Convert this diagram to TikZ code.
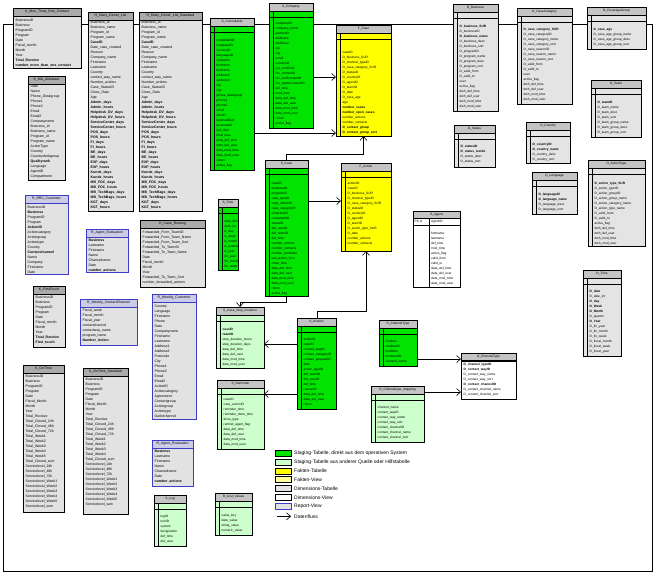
\documentclass[tikz,border=0pt]{standalone}
\usepackage{fontspec}
\setmainfont{Liberation Sans}
\usetikzlibrary{arrows.meta}
\definecolor{sgreen}{RGB}{0,228,0}
\definecolor{lgreen}{RGB}{204,255,204}
\definecolor{fyellow}{RGB}{255,255,0}
\definecolor{fview}{RGB}{255,255,153}
\definecolor{dgray}{RGB}{228,228,228}
\definecolor{hgray}{RGB}{196,196,196}
\definecolor{kbody}{RGB}{226,226,226}
\definecolor{khead}{RGB}{170,170,170}
\definecolor{rblue}{RGB}{60,60,200}
\definecolor{rhead}{RGB}{204,204,230}
\definecolor{shadowc}{RGB}{96,96,96}
\tikzset{
  tab/.style={inner sep=0pt,outer sep=0pt,anchor=north west,line width=0.6pt},
  flow/.style={line width=0.6pt,-{Straight Barb[length=4pt,width=7pt,line width=0.6pt]}},
  link/.style={line width=0.6pt},
  legtxt/.style={font=\fontsize{5}{6}\selectfont,anchor=west,inner sep=0pt}
}
\newcommand\setK{\def\bcol{kbody}\def\hcol{khead}\def\lcol{black}\def\tf{\fontsize{3.5}{4}\selectfont}}
\newcommand\setR{\def\bcol{kbody}\def\hcol{rhead}\def\lcol{rblue}\def\tf{\fontsize{3.5}{4}\selectfont}}
\newcommand\setV{\def\bcol{white}\def\hcol{hgray}\def\lcol{black}\def\tf{\fontsize{3.2}{4}\selectfont}}
\newcommand\setS{\def\bcol{sgreen}\def\hcol{hgray}\def\lcol{black}\def\tf{\fontsize{3.2}{4}\selectfont}}
\newcommand\setL{\def\bcol{lgreen}\def\hcol{hgray}\def\lcol{black}\def\tf{\fontsize{3.2}{4}\selectfont}}
\newcommand\setF{\def\bcol{fyellow}\def\hcol{hgray}\def\lcol{black}\def\tf{\fontsize{3.2}{4}\selectfont}}
\newcommand\setD{\def\bcol{dgray}\def\hcol{hgray}\def\lcol{black}\def\tf{\fontsize{3.2}{4}\selectfont}}
% report-like table: name, type, x, y, w, h, title, first-row offset, rows
\newcommand\RTab[9]{%
  \csname set#2\endcsname
  \fill[shadowc] (#3+1.2,#4+1.2) rectangle (#3+#5+1.2,#4+#6+1.2);
  \node[tab,draw=\lcol,fill=\bcol,minimum width=#5pt,minimum height=#6pt] (#1) at (#3,#4) {};
  \filldraw[fill=\hcol,draw=\lcol,line width=0.6pt] (#3,#4) rectangle (#3+#5,#4+8);
  \node[font=\tf,inner sep=0pt] at (#3+#5/2,#4+4) {#7};
  \foreach \r [count=\i from 0] in {#9}
    \node[font=\tf,anchor=base west,inner sep=0pt] at (#3+2.5,#4+#8+1.2+5*\i) {\r};
}
% keyed table (staging, fact, dimension)
\newcommand\KTab[9]{%
  \csname set#2\endcsname
  \fill[shadowc] (#3+1.2,#4+1.2) rectangle (#3+#5+1.2,#4+#6+1.2);
  \node[tab,draw=\lcol,fill=\bcol,minimum width=#5pt,minimum height=#6pt] (#1) at (#3,#4) {};
  \filldraw[fill=\hcol,draw=\lcol,line width=0.6pt] (#3,#4) rectangle (#3+#5,#4+8);
  \node[font=\tf,inner sep=0pt] at (#3+#5/2,#4+4) {#7};
  \draw[line width=0.5pt] (#3+4.5,#4+8) -- (#3+4.5,#4+#6);
  \draw[line width=1pt] (#3,#4+14) -- (#3+#5,#4+14);
  \foreach \r [count=\i from 0] in {#9}
    \node[font=\tf,anchor=base west,inner sep=0pt] at (#3+6.5,#4+#8+1.2+5*\i) {\r};
}
\begin{document}
\catcode`\_=12
\begin{tikzpicture}[x=1pt,y=-1pt]
\useasboundingbox (0,0) rectangle (658,576);
\fill[white] (0,0) rectangle (658,576);

% ---------------- top row ----------------
\RTab{KMon}{K}{13}{8}{68}{60}{K_Mon_Treat_One_Contact}{12}{BusinessID,Business,ProgramID,Program,Date,Fiscal_month,Month,Year,\textbf{Total_Receive},\textbf{number_more_than_one_contact}}

\RTab{HDiary}{K}{88}{12}{45}{199}{H_Diary_Gener_List}{10}{Business_id,Business_name,Program_id,Program_name,\textbf{CaseID},Date_case_created,Reason,Company_name,Firstname,Lastname,Country,contact_way_name,Number_actions,Case_StatusID,Close_Date,Age,\textbf{Admin_days},\textbf{Admin_hours},\textbf{Helpdesk_DV_days},\textbf{Helpdesk_DV_hours},\textbf{ServiceCenter_days},\textbf{ServiceCenter_hours},\textbf{POS_days},\textbf{POS_hours},\textbf{FI_days},\textbf{FI_hours},\textbf{BE_days},\textbf{BE_hours},\textbf{EXP_days},\textbf{EXP_hours},\textbf{Kunde_days},\textbf{Kunde_hours},\textbf{MB_FOC_days},\textbf{MB_FOC_hours},\textbf{MB_TechBags_days},\textbf{MB_TechBags_hours},\textbf{KGT_days},\textbf{KGT_hours}}

\RTab{HDiaryStd}{K}{139}{12}{63}{199}{H_Diary_Gener_List_Standard}{10}{Business_id,Business_name,Program_id,Program_name,\textbf{CaseID},Date_case_created,Reason,Company_name,Firstname,Lastname,Country,contact_way_name,Number_actions,Case_StatusID,Close_Date,Age,\textbf{Admin_days},\textbf{Admin_hours},\textbf{Helpdesk_DV_days},\textbf{Helpdesk_DV_hours},\textbf{ServiceCenter_days},\textbf{ServiceCenter_hours},\textbf{POS_days},\textbf{POS_hours},\textbf{FI_days},\textbf{FI_hours},\textbf{BE_days},\textbf{BE_hours},\textbf{EXP_days},\textbf{EXP_hours},\textbf{Kunde_days},\textbf{Kunde_hours},\textbf{MB_FOC_days},\textbf{MB_FOC_hours},\textbf{MB_TechBags_days},\textbf{MB_TechBags_hours},\textbf{KGT_days},\textbf{KGT_hours}}

\RTab{KMA}{K}{28}{76}{37}{104}{K_MA_Aktivitaet}{10}{Date,Name,Phone_Deskgroup,Phone1,Phone2,Email,Email2,Companyname,Business_id,Business_name,Program_id,Program_name,ActionType,Country,Countrydeskgroup,\textbf{Qualityrank},Language,AgentID,Compartment}

\KTab{SCons}{S}{210}{18}{44}{152}{S_Consultants}{22}{consultantID,companyID,countryID,languageID,salutation,firstname,lastname,address1,address2,zip,city,phone_deskgroup,phone1,phone2,email,email2,lastmodified,accountsid,def_time,mod_time,data_def_time,data_def_user,data_mod_time,data_mod_user,return,active_flag}

\KTab{SComp}{S}{269}{3}{44}{125}{S_Company}{20}{companyID,company_name,partnerID,address1,address2,zip,city,email,countryID,sys_modified,fax_contactID,fax_staffcontactID,fax_signeecontactID,def_time,mod_time,data_def_time,data_def_user,data_mod_time,data_mod_user,return,active_flag}

\KTab{FCase}{F}{336}{25}{55}{111}{F_Case}{27}{caseID,D_business_SUR,D_channel_typeID,D_case_category_SUR,D_statusID,D_countryID,D_agentID,D_teamID,D_date,D_case_age,age,\textbf{number_cases},\textbf{number_open_cases},number_actions,number_contacts,\textbf{D_contact_group},\textbf{D_contact_group_sort}}

\KTab{DBus}{D}{453}{4}{45}{107}{D_Business}{22}{\textbf{D_business_SUR},D_businessID,\textbf{D_business_name},D_business_desc,D_business_sort,D_programID,D_program_name,D_program_desc,D_program_sort,D_valid_from,D_valid_to,user,active_flag,dwh_def_time,dwh_def_user,dwh_mod_time,dwh_mod_user}

\KTab{DCat}{D}{517}{8}{55}{96}{D_CaseCategory}{21}{\textbf{D_case_category_SUR},D_case_categoryID,D_case_category_name,D_case_category_sort,D_case_reasonID,D_case_reason_name,D_case_reason_sort,D_valid_from,D_valid_to,user,active_flag,dwh_def_time,dwh_def_user,dwh_mod_time,dwh_mod_user}

\KTab{DCov}{D}{587}{7}{59}{42}{D_CoverageGroup}{22}{\textbf{D_case_age},D_case_age_group_name,D_case_age_group_desc,D_case_age_group_sort}

\KTab{DTeam}{D}{591}{80}{50}{57}{D_Team}{22}{\textbf{D_teamID},D_team_name,D_team_desc,D_team_sort,D_team_group_name,D_team_group_desc,D_team_group_sort}

\KTab{DStatus}{D}{454}{125}{41}{42}{D_Status}{21}{\textbf{D_statusID},\textbf{D_status_textde},D_status_desc,D_status_sort}

\KTab{DCountry}{D}{526}{122}{44}{41}{D_Country}{22}{\textbf{D_countryID},\textbf{D_country_name},D_country_desc,D_country_sort}

\KTab{DLang}{D}{532}{172}{45}{42}{D_Language}{22}{\textbf{D_languageID},\textbf{D_language_name},D_language_desc,D_language_sort}

\KTab{DAction}{D}{588}{160}{57}{86}{D_ActionType}{23}{\textbf{D_action_type_SUR},D_action_typeID,D_action_groupID,D_action_group_name,D_action_category_name,D_action_type_name,D_valid_from,D_valid_to,active_flag,dwh_def_time,dwh_def_user,dwh_mod_time,dwh_mod_user}

\KTab{DTime}{D}{583}{270}{38}{86}{D_Time}{21}{\textbf{D_date},D_date_int,\textbf{D_day},\textbf{D_Week},\textbf{D_Month},D_quarter,\textbf{D_Year},D_fin_year,D_fin_month,D_fin_week,D_fiscal_month,D_fiscal_week,D_fiscal_year}

% ---------------- middle ----------------
\KTab{SCase}{S}{265}{160}{43}{136}{S_Case}{23}{caseID,businessID,programID,case_typeID,case_statusID,case_categoryID,companyID,consultantID,statusID,def_userID,def_teamID,def_time,number_actions,number_contacts,number_reminder,last_action_time,close_time,data_def_time,data_def_user,data_mod_time,data_mod_user,return,active_flag}

\KTab{FAction}{F}{341}{163}{50}{88}{F_Action}{20}{actionID,caseID,D_business_SUR,D_channel_typeID,D_case_category_SUR,D_statusID,D_countryID,D_agentID,D_teamID,D_action_type_SUR,D_date,number_actions,number_contacts}

% S_Agent (white, wide key column)
\fill[shadowc] (414.2,212.2) rectangle (461.2,288.2);
\node[tab,draw=black,fill=white,minimum width=47pt,minimum height=76pt] (SAgent) at (413,211) {};
\filldraw[fill=hgray,draw=black,line width=0.6pt] (413,211) rectangle (460,218);
\node[font=\fontsize{3.2}{4}\selectfont,inner sep=0pt] at (436.5,214.5) {S_Agent};
\draw[line width=0.5pt] (429,218) -- (429,287);
\draw[line width=1pt] (413,225) -- (460,225);
\node[font=\fontsize{3.2}{4}\selectfont,anchor=base west,inner sep=0pt] at (414.5,222.8) {PK,I1};
\node[font=\fontsize{3.2}{4}\selectfont,anchor=base west,inner sep=0pt] at (431,222.8) {\underline{AgentID}};
\foreach \r [count=\i from 0] in {firstname,lastname,def_time,mod_time,active_flag,valid_from,valid_to,data_def_time,data_def_user,data_mod_time,data_mod_user}
  \node[font=\fontsize{3.2}{4}\selectfont,anchor=base west,inner sep=0pt] at (431,234.2+5*\i) {\r};

\KTab{STime}{S}{218}{199}{20}{71}{S_Time}{22}{date_dim,date_int,d_day,d_week,d_month,d_quarter,d_year,fin_year,fin_month,fin_week}

\KTab{SStep}{L}{216}{307}{48}{61}{S_Case_Step_Duration}{22}{\textbf{caseID},\textbf{teamID},step_duration_hours,step_duration_days,data_def_time,data_def_user,data_mod_time,data_mod_user}

\KTab{SActions}{S}{297}{318}{39}{91}{S_Actions}{21}{actionID,caseID,contact_wayID,contact_categoryID,contact_purposeID,date,action_typeID,def_teamID,def_userID,def_time,reasonID,data_def_time,data_def_user,return}

\KTab{SRem}{L}{217}{380}{47}{69}{S_Reminder}{19}{caseID,case_actionID,reminder_time,reminder_done_time,done_type,remind_agent_flag,data_def_time,data_def_user,data_mod_time,data_mod_user}

\KTab{SChan}{S}{379}{320}{38}{46}{S_ChannelType}{21}{chalbez,chalbezID,modtime,moduserID,channel_name}

\RTab{DChan}{V}{461}{353}{55}{46}{D_ChannelType}{11}{\textbf{D_channel_typeID},\textbf{D_contact_wayID},D_contact_way_name,D_contact_way_sort,\textbf{D_contact_channelID},D_contact_channel_name,D_contact_channel_sort}
\draw[line width=1pt] (461,360) -- (516,360);

\KTab{DChanMap}{L}{371}{386}{53}{56}{D_Channeltype_mapping}{21}{channel_name,contact_wayID,contact_way_name,contact_way_sort,contact_channelID,contact_channel_name,contact_channel_sort}

\KTab{SLog}{L}{154}{495}{32}{51}{S_Log}{21}{logID,toolID,system,designation,def_time,def_user}

\KTab{RLost}{L}{215}{493}{37}{42}{R_Lost_Values}{22}{value_key,date_value,string_value,numeric_value}

% ---------------- left reports ----------------
\RTab{RBRV}{R}{25}{195}{43}{79}{R_BRV_Customer}{12}{BusinessID,\textbf{Business},ProgramID,Program,\textbf{ActionID},Actioncategory,Actiongroup,Actiontype,Country,\textbf{Contactchannel},Name,Company,Firstname,Date}

\RTab{RAgent}{R}{86}{229}{42}{43}{R_Agent_Evaluation}{11}{\textbf{Business},Lastname,Firstname,Name,Channelname,Date,\textbf{number_actions}}

\RTab{HRoute}{K}{140}{220}{65}{67}{H_Case_Routing}{12}{Forwarded_From_TeamID,Forwarded_From_Team_Name,Forwarded_From_Team_Sort,Forwarded_To_TeamID,Forwarded_To_Team_Name,Date,Fiscal_month,Month,Year,Forwarded_To_Team_Sort,number_forwarded_actions}

\RTab{KFirst}{K}{33}{286}{32}{61}{K_FirstTouch}{11}{BusinessID,Business,ProgramID,Program,Date,Fiscal_month,Month,Year,\textbf{Total_Receive},\textbf{First_touch}}

\RTab{RWeekCC}{R}{80}{299}{57}{46}{R_Weekly_ContactChannel}{11}{Fiscal_week,Fiscal_month,Fiscal_year,contactchannel,contactway_name,program_name,\textbf{Number_Action}}

\RTab{RWeekCust}{R}{152}{294}{44}{125}{R_Weekly_Customer}{12}{Country,Language,Firstname,Phone,Date,Companyname,Firstname,Lastname,Address1,Address2,Postcode,City,Phone1,Phone2,Email,Email2,ActionID,Actioncategory,Agreement,Contactgroup,Actiongroup,Actiontype,Outletchannel}

\RTab{RAgent2}{R}{152}{440}{41}{46}{R_Agent_Evaluation}{11}{\textbf{Business},Lastname,Firstname,Name,Channelname,Date,\textbf{number_actions}}

\RTab{KOnTime}{K}{23}{365}{41}{147}{K_OnTime}{11}{BusinessID,Business,ProgramID,Program,Date,Fiscal_Month,Month,Year,Total_Receive,Total_Closed_24h,Total_Closed_48h,Total_Closed_72h,Total_Week1,Total_Week2,Total_Week3,Total_Week4,Total_Week5,Total_Closed_sum,Servicelevel_24h,Servicelevel_48h,Servicelevel_72h,Servicelevel_Week1,Servicelevel_Week2,Servicelevel_Week3,Servicelevel_Week4,Servicelevel_Week5,Servicelevel_sum}

\RTab{KOnTimeStd}{K}{83}{368}{45}{146}{K_OnTime_Standard}{11}{BusinessID,Business,ProgramID,Program,Date,Fiscal_Month,Month,Year,Total_Receive,Total_Closed_24h,Total_Closed_48h,Total_Closed_72h,Total_Week1,Total_Week2,Total_Week3,Total_Week4,Total_Closed_sum,Servicelevel_24h,Servicelevel_48h,Servicelevel_72h,Servicelevel_Week1,Servicelevel_Week2,Servicelevel_Week3,Servicelevel_Week4,Servicelevel_Week5,Servicelevel_sum}

% ---------------- connectors ----------------
\draw[link] (KMon.east|-0,24) -- (HDiary.west|-0,24);
\draw[link] (HDiary.east|-0,24) -- (HDiaryStd.west|-0,24);
\draw[link] (HDiaryStd.east|-0,24) -- (SCons.west|-0,24);
\draw[link] (SCons.east|-0,24) -- (SComp.west|-0,24);
\draw[link] (SComp.east|-0,24) -- (DBus.west|-0,24);
\draw[link] (DBus.east|-0,24) -- (DCat.west|-0,24);
\draw[link] (DCat.east|-0,24) -- (DCov.west|-0,24);
\coordinate (loopA) at (3,24);
\coordinate (loopB) at (652,571);
\draw[link] (KMon.west|-0,24) -- (loopA) -- (loopA|-loopB) -- (loopB) -- (loopB|-loopA) -- (DCov.east|-0,24);

\draw[flow] (SComp.east|-0,77) -- (FCase.west|-0,77);
\draw[flow] (SCons.east|-0,133) -- (FCase.west|-0,133);
\draw[flow] (SCase.north) -- (SCase.north|-0,154) -| (FCase.south);
\draw[flow] (SCase.east|-0,201) -- (FAction.west|-0,201);
\draw[flow] (SActions.north-|317,0) -- (317,311) -| (FAction.south);
\draw[flow] (SCase.south) -- (SCase.south|-0,302) -| (SStep.north);
\draw[flow] (SActions.west|-0,344) -- (SStep.east|-0,344);
\draw[flow] (SActions.west|-0,394) -- (SRem.east|-0,394);
\draw[flow] (SChan.east|-0,359) -- (DChan.west|-0,359);
\draw[flow] (DChanMap.east|-0,392) -- (DChan.west|-0,392);

% ---------------- legend ----------------
\foreach \c/\t [count=\i from 0] in {sgreen/{Staging-Tabelle, direkt aus dem operativen System},lgreen/{Staging-Tabelle aus anderer Quelle oder Hilfstabelle},fyellow/Fakten-Tabelle,fview/Fakten-View,dgray/Dimensions-Tabelle,white/Dimensions-View}{
  \filldraw[fill=\c,draw=black,line width=0.6pt] (275,450+8.9*\i) rectangle (291,456+8.9*\i);
  \node[legtxt] (leg\i) at (294,453+8.9*\i) {\t};
}
\filldraw[fill=kbody,draw=rblue,line width=0.9pt] (275,503.4) rectangle (291,509.4);
\node[legtxt] (legR) at (294,506.4) {Report-View};
\coordinate (legA) at (277,516.3);
\coordinate (legB) at (291,516.3);
\draw[flow] (legA) -- (legB);
\node[legtxt] (legF) at (294,516.3) {Datenfluss};
\end{tikzpicture}
\end{document}
